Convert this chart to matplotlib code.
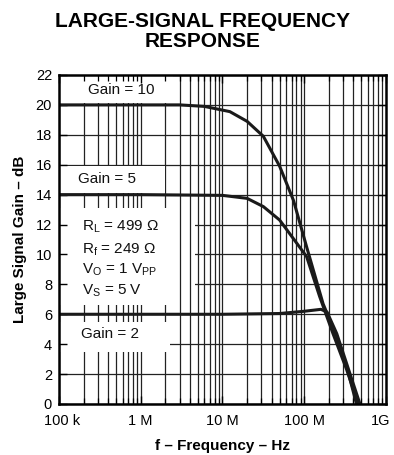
import numpy as np
import matplotlib
matplotlib.use("Agg")
import matplotlib.pyplot as plt
from matplotlib.patches import Rectangle
from matplotlib.transforms import ScaledTranslation

plt.rcParams['font.family'] = ['Liberation Sans', 'DejaVu Sans']

# ---- data ----
g10_freq = [1e5, 1e6, 3e6, 6e6, 1.23e7, 2e7, 3.16e7, 5e7, 7.4e7, 1.07e8, 1.7e8, 2.5e8, 3.3e8, 4.36e8]
g10_gain = [20.0, 20.0, 20.0, 19.9, 19.55, 18.9, 17.9, 15.9, 13.6, 10.5, 6.7, 4.5, 2.5, 0.0]

g5_freq = [1e5, 1e6, 1e7, 2e7, 3.16e7, 5e7, 8.1e7, 1.07e8, 1.54e8, 2.25e8, 3.3e8, 4.6e8]
g5_gain = [14.0, 14.0, 13.95, 13.75, 13.2, 12.3, 10.75, 9.85, 7.2, 4.7, 2.3, 0.0]

g2_freq = [1e5, 1e7, 5e7, 1e8, 1.6e8, 1.9e8, 2.5e8, 3.3e8, 4.8e8]
g2_gain = [6.0, 6.0, 6.05, 6.2, 6.33, 6.15, 4.7, 2.7, 0.0]

x_ticks = [1e5, 1e6, 1e7, 1e8, 1e9]
x_tick_labels = ['100 k', '1 M', '10 M', '100 M', '1G']
y_ticks = list(range(0, 23, 2))

fig = plt.figure(figsize=(3.94, 4.55), dpi=100)
ax = fig.add_axes([0.1497, 0.1121, 0.83, 0.7231])
ax.set_xscale('log')
ax.set_xlim(1e5, 1e9)
ax.set_ylim(0, 22)

# grid lines (drawn below the label boxes)
minor_pos = np.outer(10.0 ** np.arange(5, 9), np.arange(1, 10)).ravel()
ax.hlines(y_ticks, 1e5, 1e9, colors='#222222', linewidth=0.9, zorder=0.7)
# parameter block hides the horizontal lines a little further right
ax.add_patch(Rectangle((1e5, 6.65), 4.6e6 - 1e5, 12.8 - 6.65, facecolor='white',
                       edgecolor='none', zorder=0.75))
ax.vlines(minor_pos, 0, 22, colors='#222222', linewidth=0.9, zorder=0.8)

# white label boxes covering the grid
boxes = [
    (1e5, 2.5e6, 20.12, 21.93),
    (1e5, 1.97e6, 14.12, 15.9),
    (1e5, 2.5e6, 6.65, 13.1),
    (1e5, 2.3e6, 3.5, 5.5),
]
for x0, x1, y0, y1 in boxes:
    ax.add_patch(Rectangle((x0, y0), x1 - x0, y1 - y0, facecolor='white',
                           edgecolor='none', zorder=1))

for f, g in [(g10_freq, g10_gain), (g5_freq, g5_gain), (g2_freq, g2_gain)]:
    ax.plot(f, g, color='#1a1a1a', linewidth=2.2, zorder=3, clip_on=True,
            solid_capstyle='butt')

ax.set_xticks(x_ticks)
ax.set_xticklabels(x_tick_labels)
ax.set_xticks(minor_pos[(minor_pos > 1e5) & (minor_pos < 1e9)], minor=True)
ax.xaxis.set_minor_formatter(matplotlib.ticker.NullFormatter())
ax.set_yticks(y_ticks)
ax.tick_params(axis='both', which='major', direction='in', length=6, width=1,
               labelsize=10.5, top=True, right=True, pad=5)
ax.tick_params(axis='x', which='minor', direction='in', length=4, width=0.9,
               top=True, bottom=True)
ax.tick_params(axis='y', which='major', pad=5)
ax.tick_params(axis='x', which='major', pad=7)
for s in ax.spines.values():
    s.set_linewidth(1.8)
    s.set_zorder(4)

# nudge the end labels as in the reference
xlabels = ax.get_xticklabels()
xlabels[0].set_transform(xlabels[0].get_transform() +
                         ScaledTranslation(3 / 100, 0, fig.dpi_scale_trans))
xlabels[-1].set_transform(xlabels[-1].get_transform() +
                          ScaledTranslation(-5 / 100, 0, fig.dpi_scale_trans))

ax.set_xlabel('f – Frequency – Hz', fontsize=11, fontweight='bold', labelpad=8)
ax.set_ylabel('Large Signal Gain – dB', fontsize=11, fontweight='bold', labelpad=6)

fig.text(0.513, 0.974, 'LARGE-SIGNAL FREQUENCY\nRESPONSE', ha='center', va='top',
         fontsize=15, fontweight='bold', linespacing=1.1)

tk = dict(fontsize=11, color='#111111', zorder=2)
ax.text(5.7e5, 21.0, 'Gain = 10', ha='center', va='center', **tk)
ax.text(3.9e5, 15.05, 'Gain = 5', ha='center', va='center', **tk)
ax.text(1.9e5, 11.84, r'R$_\mathregular{L}$ = 499 Ω', ha='left', va='center', **tk)
ax.text(1.9e5, 10.3, r'R$_\mathregular{f}$ = 249 Ω', ha='left', va='center', **tk)
ax.text(1.9e5, 8.96, r'V$_\mathregular{O}$ = 1 V$_\mathregular{PP}$', ha='left', va='center', **tk)
ax.text(1.9e5, 7.6, r'V$_\mathregular{S}$ = 5 V', ha='left', va='center', **tk)
ax.text(1.88e5, 4.7, 'Gain = 2', ha='left', va='center', **tk)

fig.savefig('out.png', dpi=100)
